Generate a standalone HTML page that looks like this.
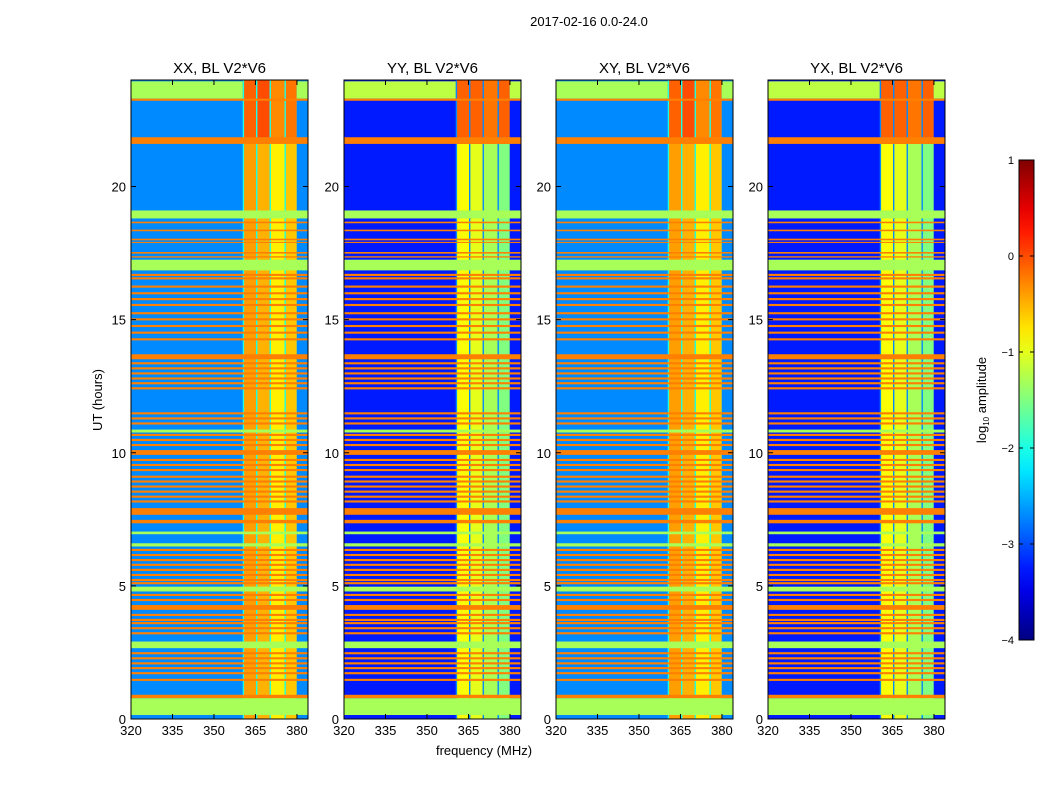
<!DOCTYPE html>
<html><head><meta charset="utf-8">
<style>
html,body{margin:0;padding:0;background:#fff;}
svg{display:block;font-family:"Liberation Sans","DejaVu Sans",sans-serif;}
</style></head>
<body>
<svg id="fig" width="1050" height="800" viewBox="0 0 1050 800" xmlns="http://www.w3.org/2000/svg">
<rect width="1050" height="800" fill="#fff"/>
<text x="589" y="26" font-size="13" text-anchor="middle">2017-02-16 0.0-24.0</text>
<text x="484" y="755" font-size="13" text-anchor="middle">frequency (MHz)</text>
<text transform="translate(102,400) rotate(-90)" font-size="13" text-anchor="middle">UT (hours)</text>
<g id="panels"></g>
<g id="cbar"></g>
</svg>
<script>
// ---- data ----
const panelTitles = ["XX, BL V2*V6","YY, BL V2*V6","XY, BL V2*V6","YX, BL V2*V6"];
const xTicks = [320,335,350,365,380];
const yTicks = [0,5,10,15,20];
const cbTicks = [1,0,-1,-2,-3,-4];
// background log amplitude per panel
const bgValue = [-2.7,-3.25,-2.7,-3.25];
const gapValue = [-2.0,-2.7,-2.0,-2.7];
const topValue = [-1.3,-1.2,-1.3,-1.2];
// RFI block columns (MHz)
const blockStart = [360.9,365.7,370.6,376.0];
const blockEnd = [365.2,370.1,375.5,379.9];
const blockLow = [[-0.4,-0.5,-0.8,-0.6],[-0.9,-1.0,-1.3,-1.5],[-0.4,-0.5,-0.8,-0.6],[-0.9,-1.0,-1.3,-1.5]];
const blockHigh = [[-0.1,0.0,-0.3,-0.2],[-0.1,-0.1,-0.2,-0.1],[-0.1,0.0,-0.3,-0.2],[-0.1,-0.1,-0.2,-0.1]];
// flagged rows (hours): orange and green bands
const orangeStart = [23.22,21.6,18.62,18.32,17.98,17.88,17.48,17.33,16.64,16.51,16.2,15.95,15.73,15.51,15.2,14.97,14.72,14.47,14.22,13.51,13.32,13.13,12.94,12.75,12.57,12.38,11.44,11.25,11.06,10.63,10.44,10.25,9.92,9.69,9.5,9.31,9.06,8.88,8.69,8.5,8.31,8.13,7.67,7.35,6.31,6.12,5.93,5.75,5.56,5.37,5.18,5.06,4.62,4.43,4.1,3.87,3.68,3.56,3.37,3.18,2.43,2.24,2.05,1.87,1.68,1.43,0.78];
const orangeEnd   = [23.3,21.85,18.68,18.38,18.04,17.92,17.54,17.38,16.72,16.59,16.28,16.03,15.81,15.59,15.28,15.05,14.8,14.55,14.3,13.7,13.4,13.21,13.02,12.83,12.65,12.46,11.52,11.33,11.14,10.71,10.52,10.33,10.1,9.77,9.58,9.39,9.14,8.96,8.77,8.58,8.39,8.21,7.92,7.48,6.39,6.2,6.01,5.83,5.64,5.45,5.26,5.14,4.7,4.51,4.28,3.95,3.76,3.64,3.45,3.26,2.51,2.32,2.13,1.95,1.76,1.51,0.91];
const greenStart = [18.8,16.85,10.76,6.94,6.48,4.79,2.66,0.15];
const greenEnd   = [19.1,17.25,10.87,7.04,6.6,4.97,2.91,0.78];

// ---- geometry ----
const panelLeft = [131,344,556,768];
const pW = 177, pTop = 80, pBot = 719;
const fMin = 320, fMax = 384, tMin = 0, tMax = 24;
const vMin = -4, vMax = 1;
const NS = "http://www.w3.org/2000/svg";

function jet(v){
  let t = (v - vMin)/(vMax - vMin); t = Math.max(0,Math.min(1,t));
  const c = x => Math.round(255*Math.max(0,Math.min(1,x)));
  return `rgb(${c(1.5-Math.abs(4*t-3))},${c(1.5-Math.abs(4*t-2))},${c(1.5-Math.abs(4*t-1))})`;
}
function mk(tag, attrs, parent){
  const e = document.createElementNS(NS, tag);
  for (const k in attrs) e.setAttribute(k, attrs[k]);
  parent.appendChild(e); return e;
}
const panelsG = document.getElementById('panels');

panelTitles.forEach((title, p) => {
  const L = panelLeft[p];
  const xs = f => L + (f - fMin)/(fMax - fMin)*pW;
  const ys = h => pBot - (h - tMin)/(tMax - tMin)*(pBot - pTop);
  const g = mk('g', {}, panelsG);
  
  
  function cell(f0,f1,h0,h1,v,name){
    const r = mk('rect', {x:xs(f0), y:ys(h1), width:xs(f1)-xs(f0), height:ys(h0)-ys(h1), fill:jet(v)}, g);
    
    
  }
  cell(fMin,fMax,tMin,tMax,bgValue[p],'background-cells');
  cell(360.4,blockEnd[3],tMin,tMax,gapValue[p],'rfi-gap-cells');
  blockStart.forEach((s,i)=>{
    cell(s,blockEnd[i],tMin,21.6,blockLow[p][i],'rfi-block-cell');
    cell(s,blockEnd[i],21.6,tMax,blockHigh[p][i],'rfi-block-cell');
  });
  cell(fMin,360.4,23.3,23.95,topValue[p],'top-band-cell');
  cell(blockEnd[3],fMax,23.3,23.95,topValue[p],'top-band-cell');
  orangeStart.forEach((s,i)=>cell(fMin,fMax,s,orangeEnd[i],-0.25,'flagged-row-orange'));
  greenStart.forEach((s,i)=>cell(fMin,fMax,s,greenEnd[i],-1.3,'flagged-row-green'));
  // frame
  const fr = mk('rect',{x:L,y:pTop,width:pW,height:pBot-pTop,fill:'none',stroke:'#000','stroke-width':1}, g);
  
  
  const tt = mk('text',{x:L+pW/2,y:pTop-7,'font-size':15,'text-anchor':'middle'}, g);
  tt.textContent = title;
  
  
  xTicks.forEach(f=>{
    const x = xs(f);
    mk('line',{x1:x,x2:x,y1:pBot,y2:pBot-5,stroke:'#000'},g);
    mk('line',{x1:x,x2:x,y1:pTop,y2:pTop+5,stroke:'#000'},g);
    const t = mk('text',{x:x,y:pBot+16,'font-size':13,'text-anchor':'middle'},g);
    t.textContent = f;
    
    
  });
  yTicks.forEach(h=>{
    const y = ys(h);
    mk('line',{x1:L,x2:L+5,y1:y,y2:y,stroke:'#000'},g);
    mk('line',{x1:L+pW,x2:L+pW-5,y1:y,y2:y,stroke:'#000'},g);
    const t = mk('text',{x:L-5,y:y+5,'font-size':13,'text-anchor':'end'},g);
    t.textContent = h;
    
    
  });
});

// colorbar
const cb = document.getElementById('cbar');


const cbX = 1019, cbW = 15, cbTop = 160, cbBot = 640;
const cy = v => cbBot - (v - vMin)/(vMax - vMin)*(cbBot - cbTop);
const defs = mk('defs',{},cb);
const grad = mk('linearGradient',{id:'jetg',x1:0,y1:1,x2:0,y2:0},defs);
for (let i=0;i<=20;i++){ mk('stop',{offset:i/20,'stop-color':jet(vMin+(vMax-vMin)*i/20)},grad); }
mk('rect',{x:cbX,y:cbTop,width:cbW,height:cbBot-cbTop,fill:'url(#jetg)',stroke:'#000'},cb);
cbTicks.forEach(v=>{
  const y = cy(v);
  mk('line',{x1:cbX,x2:cbX+4,y1:y,y2:y,stroke:'#000'},cb);
  mk('line',{x1:cbX+cbW,x2:cbX+cbW-4,y1:y,y2:y,stroke:'#000'},cb);
  const t = mk('text',{x:cbX-5,y:y+4,'font-size':11,'text-anchor':'end'},cb);
  t.textContent = v < 0 ? '\u2212' + Math.abs(v) : String(v);
  
  
});
const lab = mk('text',{transform:'translate(986,400) rotate(-90)','font-size':13,'text-anchor':'middle'},cb);
lab.innerHTML = 'log<tspan font-size="8" dy="3">10</tspan><tspan dy="-3"> amplitude</tspan>';


</script>
</body></html>
